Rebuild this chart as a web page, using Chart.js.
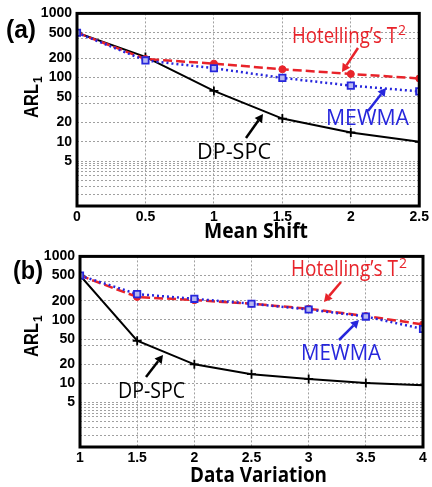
<!DOCTYPE html>
<html><head><meta charset="utf-8">
<script src="https://cdn.jsdelivr.net/npm/chart.js@4.4.1/dist/chart.umd.min.js"></script>
<style>
html,body{margin:0;padding:0;background:#fff;}
#wrap{position:relative;width:432px;height:487px;overflow:hidden;}
canvas{position:absolute;left:0;}
#ca{top:0;width:432px;height:243px;}
#cb{top:243px;width:432px;height:244px;}
</style></head><body>
<div id="wrap"><canvas id="ca" width="432" height="243"></canvas><canvas id="cb" width="432" height="244"></canvas></div>
<script>
// ---- data ----
const meanShift = [0, 0.5, 1, 1.5, 2, 2.5];
const aDPSPC    = [500, 210, 62, 23, 14, 10];
const aHotelling= [500, 195, 165, 135, 114, 97];
const aMEWMA    = [500, 185, 140, 99, 75, 61];

const dataVariation = [1, 1.5, 2, 2.5, 3, 3.5, 4];
const bDPSPC    = [500, 47, 20, 14, 11.8, 10.2, 9.4];
const bHotelling= [500, 230, 205, 180, 150, 115, 85];
const bMEWMA    = [500, 255, 215, 180, 146, 113, 72];

const yTickLabels = [1000, 500, 200, 100, 50, 20, 10, 5];
const yGridValues = [1000, 500, 400, 200, 100, 50, 40, 20, 10, 5, 4.6, 4.2, 3.8, 3.4, 3, 2.5, 2, 1.5, 1];
const xTicksA = [0, 0.5, 1, 1.5, 2, 2.5];
const xTicksB = [1, 1.5, 2, 2.5, 3, 3.5, 4];

const RED = '#e8232a', BLUE = '#2626dc', BLACK = '#000';
const TICKFONT = {family: '"Liberation Sans", Arial, sans-serif', weight: 'bold', size: 14};

function pts(xs, ys){ return xs.map((x,i)=>({x:x, y:ys[i]})); }

function fitText(ctx, text, x, baseline, width, font, color){
  ctx.save();
  ctx.font = font;
  ctx.fillStyle = color;
  ctx.textBaseline = 'alphabetic';
  ctx.textAlign = 'left';
  const w = ctx.measureText(text).width;
  ctx.translate(x, baseline);
  ctx.scale(width / w, 1);
  ctx.fillText(text, 0, 0);
  ctx.restore();
}
function arrow(ctx, x1, y1, x2, y2, color){
  ctx.save();
  ctx.strokeStyle = color; ctx.fillStyle = color; ctx.lineWidth = 2.5;
  const ang = Math.atan2(y2-y1, x2-x1), hl = 8, hw = 4.5;
  const bx = x2 - hl*Math.cos(ang), by = y2 - hl*Math.sin(ang);
  ctx.beginPath(); ctx.moveTo(x1,y1); ctx.lineTo(bx,by); ctx.stroke();
  ctx.beginPath();
  ctx.moveTo(x2,y2);
  ctx.lineTo(bx + hw*Math.sin(ang), by - hw*Math.cos(ang));
  ctx.lineTo(bx - hw*Math.sin(ang), by + hw*Math.cos(ang));
  ctx.closePath(); ctx.fill();
  ctx.restore();
}

const deco = {
  id: 'deco',
  afterDatasetsDraw(chart){
    const {ctx, chartArea: a} = chart;
    ctx.save(); ctx.strokeStyle = '#000'; ctx.lineWidth = 3;
    ctx.strokeRect(a.left, a.top, a.right - a.left, a.bottom - a.top);
    ctx.restore();
  },
  afterDraw(chart, args, o){
    const ctx = chart.ctx;
    // panel label
    fitText(ctx, o.panel, o.panelX, o.panelY, 30, 'bold 25px "Liberation Sans", Arial, sans-serif', '#000');
    // y title ARL1
    ctx.save();
    ctx.translate(o.yTitleX, o.yTitleY);
    ctx.rotate(-Math.PI/2);
    fitText(ctx, 'ARL', 0, 0, 34, 'bold 21px "Liberation Sans", Arial, sans-serif', '#000');
    ctx.font = 'bold 12px "Liberation Sans", Arial, sans-serif';
    ctx.fillStyle = '#000';
    ctx.fillText('1', 35, 4);
    ctx.restore();
    // x title
    fitText(ctx, o.xTitle[0], o.xTitle[1], o.xTitle[2], o.xTitle[3], 'bold 22px "Open Sans", sans-serif', '#000');
    // annotations
    const F = (s)=> s + 'px "Open Sans", sans-serif';
    const h = o.hot;
    fitText(ctx, 'Hotelling\u2019s T', h[0], h[1], h[2], F(h[3]), RED);
    ctx.save(); ctx.font = F(14); ctx.fillStyle = RED; ctx.fillText('2', h[0] + h[2] + 1, h[1] - 8); ctx.restore();
    arrow(ctx, ...o.hotArrow, RED);
    const m = o.mew;
    fitText(ctx, 'MEWMA', m[0], m[1], m[2], F(m[3]), BLUE);
    arrow(ctx, ...o.mewArrow, BLUE);
    const d = o.dp;
    fitText(ctx, 'DP-SPC', d[0], d[1], d[2], F(d[3]), '#000');
    arrow(ctx, ...o.dpArrow, '#000');
  }
};

function makeChart(id, xs, ys, xTicks, area, H, decoOpts){
  const datasets = [
    {label:'MEWMA', data: pts(xs, ys[2]), borderColor: BLUE, borderWidth: 2.5, borderDash:[2,3],
     pointStyle:'rect', pointRadius:4.5, pointBorderWidth:1.8, pointBorderColor: BLUE, pointBackgroundColor:'#b8b8f0', order:1},
    {label:'Hotelling', data: pts(xs, ys[1]), borderColor: RED, borderWidth: 2.5, borderDash:[9,4],
     pointStyle:'circle', pointRadius:3.5, pointBorderWidth:1, pointBorderColor: RED, pointBackgroundColor: RED, order:2},
    {label:'DP-SPC', data: pts(xs, ys[0]), borderColor: BLACK, borderWidth: 2,
     pointStyle:'cross', pointRadius:4.5, pointBorderWidth:1.8, pointBorderColor: BLACK, order:3}
  ];
  return new Chart(document.getElementById(id), {
    type: 'line',
    data: {datasets},
    options: {
      responsive: false, animation: false, devicePixelRatio: 1,
      layout: {padding: {left: 0, top: area.top, right: 432 - area.right, bottom: 0}},
      plugins: {legend: {display:false}, tooltip: {enabled:false}, deco: decoOpts},
      elements: {line: {tension: 0}},
      scales: {
        x: {type:'linear', min: xTicks[0], max: xTicks[xTicks.length-1],
          afterBuildTicks: s => { s.ticks = xTicks.map(v => ({value: v})); },
          afterFit: s => { s.height = H - area.bottom; },
          ticks: {autoSkip:false, maxRotation:0, padding: 3, color:'#000', font: TICKFONT, callback: v => String(v)},
          grid: {color:'#a0a0a0', lineWidth:1, drawTicks:false},
          border: {display:false, dash:[2,2]}
        },
        y: {type:'logarithmic', min: 1, max: 1000,
          afterBuildTicks: s => { s.ticks = yGridValues.map(v => ({value: v})); },
          afterFit: s => { s.width = area.left; },
          ticks: {autoSkip:false, padding: 5, color:'#000', font: TICKFONT,
            callback: v => yTickLabels.includes(v) ? String(v) : ''},
          grid: {color:'#a0a0a0', lineWidth:1, drawTicks:false},
          border: {display:false, dash:[2,2]}
        }
      }
    },
    plugins: [deco]
  });
}

makeChart('ca', meanShift, [aDPSPC, aHotelling, aMEWMA], xTicksA,
  {left:77, right:421, top:10, bottom:206}, 243,
  {panel:'(a)', panelX:6, panelY:38, yTitleX:38, yTitleY:118,
   xTitle:['Mean Shift', 204, 238, 104],
   hot:[292, 43, 105, 21], hotArrow:[358, 48, 342, 72],
   mew:[326, 125, 83, 21], mewArrow:[368, 111, 386, 88],
   dp:[197, 159, 74, 21], dpArrow:[246, 138, 263, 114]});

makeChart('cb', dataVariation, [bDPSPC, bHotelling, bMEWMA], xTicksB,
  {left:80, right:423, top:9, bottom:204}, 244,
  {panel:'(b)', panelX:13, panelY:36, yTitleX:38, yTitleY:114,
   xTitle:['Data Variation', 190, 239, 137],
   hot:[291, 33, 107, 21], hotArrow:[341, 39, 324, 59],
   mew:[301, 117, 80, 21], mewArrow:[339, 97, 359, 77],
   dp:[118, 155, 67, 21], dpArrow:[146, 134, 163, 112]});
</script>
</body></html>
